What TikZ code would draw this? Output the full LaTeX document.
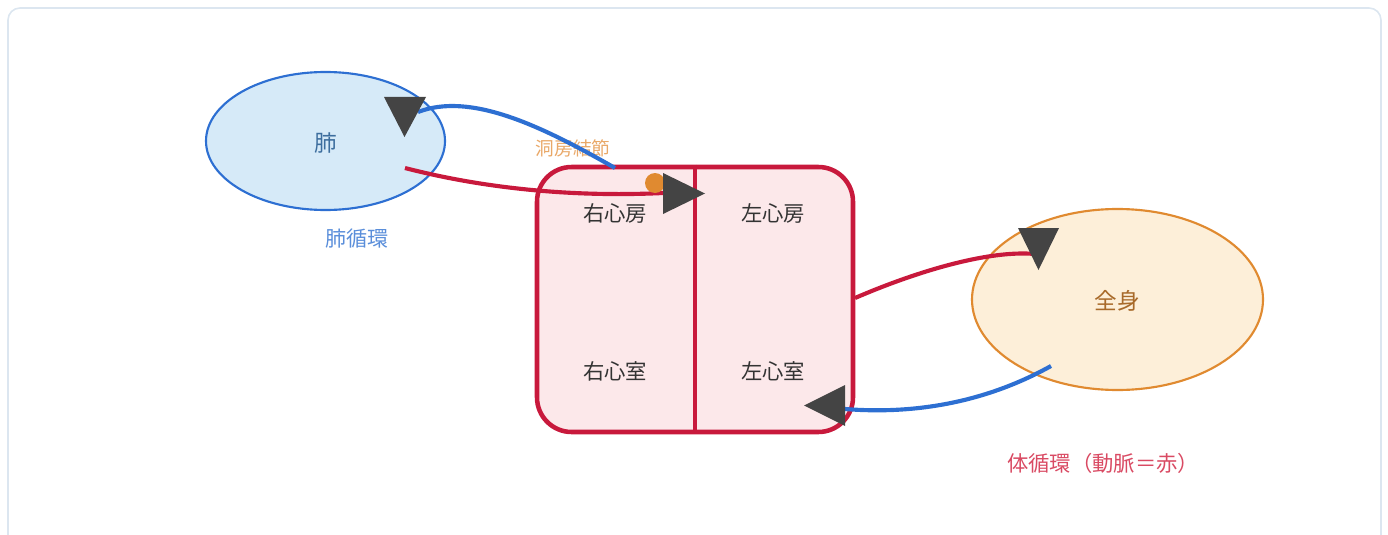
\documentclass[tikz,border=0pt]{standalone}
\usepackage{fontspec}
\setmainfont{Noto Sans CJK JP}
\usetikzlibrary{shapes.geometric}
\definecolor{frameC}{HTML}{DCE6F0}
\definecolor{lungFill}{HTML}{D6EAF8}
\definecolor{blueC}{HTML}{2D6FD2}
\definecolor{lungText}{HTML}{3D6E9E}
\definecolor{pulmText}{HTML}{5A8EDA}
\definecolor{redC}{HTML}{C8193C}
\definecolor{heartFill}{HTML}{FCE8EA}
\definecolor{bodyFill}{HTML}{FDEFD9}
\definecolor{orangeC}{HTML}{E08A30}
\definecolor{bodyText}{HTML}{A86A2A}
\definecolor{nodeText}{HTML}{E9A868}
\definecolor{sysText}{HTML}{D94A63}
\definecolor{cellText}{HTML}{333333}
\definecolor{tipC}{HTML}{444444}
\tikzset{
  organ/.style={ellipse, inner sep=0pt, line width=1.6pt},
  cell/.style={text=cellText, font=\fontsize{16}{18}\selectfont},
  vessel/.style={line width=3.1pt},
  tipmark/.style={fill=tipC, draw=none},
}
\begin{document}
\begin{tikzpicture}[x=0.75pt,y=-0.75pt]
\useasboundingbox (0,0) rectangle (1388,535);
\begin{scope}
\clip (0,0) rectangle (1388,535);
\draw[frameC, line width=1.2pt, rounded corners=9pt] (8,8) rectangle (1381,548);
\end{scope}
% organs
\node[organ, draw=blueC, fill=lungFill, minimum width={239*0.75pt}, minimum height={138*0.75pt}] (lung) at (325.5,141) {};
\node[text=lungText, font=\fontsize{17}{19}\selectfont] (lungL) at (325.5,143) {肺};
\node[organ, draw=orangeC, fill=bodyFill, minimum width={291*0.75pt}, minimum height={181*0.75pt}] (body) at (1117.5,299.5) {};
\node[text=bodyText, font=\fontsize{17}{19}\selectfont] (bodyL) at (1117.5,301) {全身};
% heart
\node[draw=redC, fill=heartFill, line width=3.4pt, rounded corners=26pt, minimum width={316*0.75pt}, minimum height={265*0.75pt}, inner sep=0pt] (heart) at (695,299.5) {};
\draw[redC, line width=2.3pt] (heart.north) -- (heart.south);
\node[cell] (ra) at (615,213) {右心房};
\node[cell] (la) at (773,213) {左心房};
\node[cell] (rv) at (615,371) {右心室};
\node[cell] (lv) at (773,371) {左心室};
% labels
\node[text=pulmText, font=\fontsize{15.8}{17}\selectfont] (pulm) at (357,239) {肺循環};
\node[text=nodeText, font=\fontsize{14}{16}\selectfont] (san) at (573,148) {洞房結節};
\node[text=sysText, font=\fontsize{16}{18}\selectfont] (sys) at (1103,463) {体循環（動脈＝赤）};
% connector end points
\coordinate (lungOut) at (405,168);
\coordinate (raIn) at (663,193);
\coordinate (raTop) at (615,168);
\coordinate (lungIn) at (418,112);
\coordinate (lvOut) at (855,298);
\coordinate (bodyIn) at (1035,254);
\coordinate (bodyOut) at (1051,366);
\coordinate (lvIn) at (845,409);
% vessels
\draw[vessel, redC] (lungOut) .. controls (490,190) and (580,197) .. (raIn);
\draw[vessel, blueC] (raTop) .. controls (540,125) and (470,92) .. (lungIn);
\draw[vessel, redC] (lvOut) .. controls (920,270) and (990,250) .. (bodyIn);
\draw[vessel, blueC] (bodyOut) .. controls (990,400) and (920,415) .. (lvIn);
% SA node
\fill[orangeC] (655,183) circle (7.5pt);
% arrowheads
\fill[tipmark] (384,97) -- (426,97) -- (404.5,137) -- cycle;
\fill[tipmark] (663,173) -- (705,193.5) -- (663,214) -- cycle;
\fill[tipmark] (1018,228) -- (1059,228) -- (1038.5,270) -- cycle;
\fill[tipmark] (845,385) -- (845,426) -- (804,405.5) -- cycle;
\end{tikzpicture}
\end{document}
